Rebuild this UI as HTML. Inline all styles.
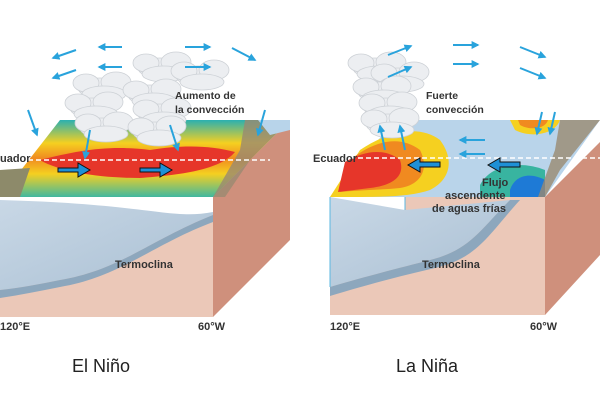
<!DOCTYPE html>
<html><head><meta charset="utf-8"><style>
html,body{margin:0;padding:0;background:#fff;}
svg{display:block}
text{font-family:"Liberation Sans",sans-serif;}
</style></head><body>
<svg width="600" height="400" viewBox="0 0 600 400" xmlns="http://www.w3.org/2000/svg">
<defs>
<marker id="ah" viewBox="0 0 10 10" refX="8" refY="5" markerWidth="4" markerHeight="4" orient="auto"><path d="M0,0L10,5L0,10z" fill="#29a3dc"/></marker>
<linearGradient id="th" x1="0" y1="0" x2="1" y2="1"><stop offset="0" stop-color="#c9d8e6"/><stop offset="1" stop-color="#a9bfd3"/></linearGradient>
<linearGradient id="sea" x1="0" y1="0" x2="0" y2="1"><stop offset="0" stop-color="#2bb0b0"/><stop offset="0.3" stop-color="#f5d020"/><stop offset="0.5" stop-color="#f08a20"/><stop offset="0.7" stop-color="#f5d020"/><stop offset="1" stop-color="#40b8a0"/></linearGradient>
<g id="cloud" fill="#eceef1" stroke="#cdd1d6" stroke-width="0.8">
<ellipse cx="0" cy="0" rx="22" ry="10"/><ellipse cx="16" cy="-6" rx="15" ry="10"/><ellipse cx="-14" cy="-5" rx="13" ry="9"/><ellipse cx="4" cy="6" rx="22" ry="8"/>
</g>
</defs>

<!-- LEFT BLOCK -->
<polygon points="213,197 290,120 290,240 213,317" fill="#cf907c"/>
<rect x="0" y="197" width="213" height="120" fill="#ebc8b8"/>
<path d="M0,197 L213,197 L213,215 C150,240 120,270 60,280 C40,284 20,288 0,290 Z" fill="url(#th)"/>
<path d="M0,290 C20,288 40,284 60,280 C120,270 150,240 213,215 L213,222 C150,246 120,277 60,287 C40,291 20,295 0,298 Z" fill="#8da7bd"/>
<path d="M0,197 L213,197 L213,212 C170,220 150,204 0,200 Z" fill="#fff"/>
<polygon points="0,197 213,197 290,120 60,120" fill="url(#sea)"/>
<path d="M40,160 C80,150 110,145 150,150 C180,145 210,145 235,152 C220,170 180,175 140,178 C100,178 60,172 40,160Z" fill="#e6362a"/>
<polygon points="245,120 290,120 250,160 225,197 213,197 240,150" fill="#9a8a70" opacity="0.8"/>
<polygon points="258,120 290,120 290,130 270,135" fill="#b8d4ea"/>
<polygon points="0,170 30,168 20,197 0,197" fill="#8d8a6a"/>
<line x1="20" y1="160" x2="270" y2="160" stroke="#fff" stroke-width="1.5" stroke-dasharray="5,3"/>
<path d="M58,168 L78,168 L78,163 L90,170 L78,177 L78,172 L58,172Z" fill="#1e90d6" stroke="#111" stroke-width="1"/>
<path d="M140,168 L160,168 L160,163 L172,170 L160,177 L160,172 L140,172Z" fill="#1e90d6" stroke="#111" stroke-width="1"/>
<text x="0" y="162" font-size="11" font-weight="bold" fill="#333">uador</text>
<text x="115" y="268" font-size="11" font-weight="bold" fill="#333">Termoclina</text>
<text x="0" y="330" font-size="11" font-weight="bold" fill="#333">120°E</text>
<text x="198" y="330" font-size="11" font-weight="bold" fill="#333">60°W</text>
<text x="72" y="372" font-size="18" fill="#222">El Niño</text>
<use href="#cloud" x="100" y="88"/><use href="#cloud" x="92" y="108"/><use href="#cloud" x="102" y="128"/>
<use href="#cloud" x="160" y="68"/><use href="#cloud" x="198" y="76"/><use href="#cloud" x="150" y="95"/><use href="#cloud" x="160" y="114"/><use href="#cloud" x="155" y="132"/>
<text x="175" y="99" font-size="10.5" font-weight="bold" fill="#333">Aumento de</text>
<text x="175" y="113" font-size="10.5" font-weight="bold" fill="#333">la convección</text>
<g stroke="#29a3dc" stroke-width="2" marker-end="url(#ah)" fill="none">
<line x1="76" y1="50" x2="53" y2="58"/><line x1="122" y1="47" x2="99" y2="47"/>
<line x1="76" y1="70" x2="53" y2="78"/><line x1="122" y1="67" x2="99" y2="67"/>
<line x1="185" y1="47" x2="210" y2="47"/><line x1="185" y1="67" x2="210" y2="67"/>
<line x1="232" y1="48" x2="255" y2="60"/>
<line x1="28" y1="110" x2="37" y2="135"/><line x1="265" y1="110" x2="258" y2="135"/>
<line x1="90" y1="130" x2="85" y2="158"/><line x1="170" y1="125" x2="178" y2="150"/>
</g>

<!-- RIGHT BLOCK -->
<polygon points="545,197 600,142 600,255 545,315" fill="#cf907c"/>
<rect x="330" y="197" width="215" height="118" fill="#ebc8b8"/>
<path d="M330,197 L405,197 L405,210 L510,200 C480,230 470,250 430,260 C400,268 370,275 330,287 Z" fill="url(#th)"/>
<path d="M330,287 C370,275 400,268 430,260 C470,250 480,230 510,200 L520,200 C488,235 478,258 435,268 C400,276 370,284 330,296 Z" fill="#8da7bd"/>
<polygon points="330,197 405,197 405,210" fill="#fff"/>
<line x1="330" y1="197" x2="330" y2="287" stroke="#5bb7e0" stroke-width="1"/>
<line x1="405" y1="197" x2="405" y2="210" stroke="#5bb7e0" stroke-width="1"/>
<polygon points="330,197 545,197 600,120 395,120" fill="#b9d4ea"/>
<path d="M360,150 C390,130 420,125 440,140 C455,160 450,180 430,190 C410,197 380,197 340,197 L330,197Z" fill="#f5d020"/>
<path d="M350,160 C375,140 400,135 420,150 C430,170 420,185 400,188 C380,190 360,190 340,192Z" fill="#f08a20"/>
<path d="M345,162 C365,150 385,148 400,160 C405,175 395,185 370,188 L338,192Z" fill="#e6362a"/>
<path d="M480,185 C490,165 520,160 545,170 L545,197 L480,197Z" fill="#38b4a0"/>
<path d="M510,190 C515,175 530,172 545,180 L545,197 L510,197Z" fill="#1e7ad6"/>
<path d="M510,120 L560,120 C555,135 530,138 515,130Z" fill="#f5d020"/>
<path d="M518,120 L548,120 C545,130 528,130 520,125Z" fill="#f08a20"/>
<polygon points="560,120 600,120 560,170 545,197 538,197 555,150" fill="#9a8a70" opacity="0.8"/>
<line x1="350" y1="158" x2="600" y2="158" stroke="#fff" stroke-width="1.5" stroke-dasharray="5,3"/>
<path d="M440,162 L420,162 L420,158 L408,165 L420,172 L420,167 L440,167Z" fill="#1e90d6" stroke="#111" stroke-width="1"/>
<path d="M520,162 L500,162 L500,158 L488,165 L500,172 L500,167 L520,167Z" fill="#1e90d6" stroke="#111" stroke-width="1"/>
<text x="313" y="162" font-size="11" font-weight="bold" fill="#333">Ecuador</text>
<text x="482" y="186" font-size="11" font-weight="bold" fill="#333">Flujo</text>
<text x="445" y="199" font-size="11" font-weight="bold" fill="#333">ascendente</text>
<text x="432" y="212" font-size="11" font-weight="bold" fill="#333">de aguas frías</text>
<text x="422" y="268" font-size="11" font-weight="bold" fill="#333">Termoclina</text>
<text x="330" y="330" font-size="11" font-weight="bold" fill="#333">120°E</text>
<text x="530" y="330" font-size="11" font-weight="bold" fill="#333">60°W</text>
<text x="396" y="372" font-size="18" fill="#222">La Niña</text>
<use href="#cloud" x="375" y="68"/><use href="#cloud" x="398" y="78"/><use href="#cloud" x="380" y="92"/><use href="#cloud" x="386" y="108"/><use href="#cloud" x="388" y="124"/>
<text x="426" y="99" font-size="10.5" font-weight="bold" fill="#333">Fuerte</text>
<text x="426" y="113" font-size="10.5" font-weight="bold" fill="#333">convección</text>
<g stroke="#29a3dc" stroke-width="2" marker-end="url(#ah)" fill="none">
<line x1="388" y1="55" x2="411" y2="46"/><line x1="388" y1="77" x2="411" y2="67"/>
<line x1="453" y1="45" x2="478" y2="45"/><line x1="453" y1="64" x2="478" y2="64"/>
<line x1="520" y1="47" x2="545" y2="57"/><line x1="520" y1="68" x2="545" y2="78"/>
<line x1="542" y1="112" x2="537" y2="134"/><line x1="555" y1="112" x2="550" y2="134"/>
<line x1="385" y1="150" x2="380" y2="126"/><line x1="405" y1="150" x2="400" y2="126"/>
<line x1="485" y1="140" x2="460" y2="140"/><line x1="485" y1="154" x2="460" y2="154"/>
</g>
</svg>
</body></html>
